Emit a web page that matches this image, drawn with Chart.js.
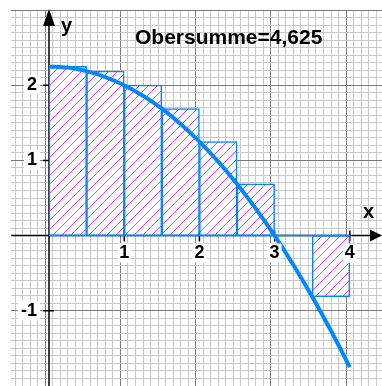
<!DOCTYPE html>
<html><head><meta charset="utf-8">
<script src="https://cdn.jsdelivr.net/npm/chart.js@4"></script>
<style>html,body{margin:0;padding:0;background:#fff;overflow:hidden}canvas{display:block}</style>
</head><body>
<canvas id="c" width="382" height="386"></canvas>
<script>
// ---- data ----
const curveX = [0, 0.25, 0.5, 0.75, 1, 1.25, 1.5, 1.75, 2, 2.25, 2.5, 2.75, 3, 3.25, 3.5, 3.75, 4];
const curveY = [2.25, 2.234, 2.1875, 2.109, 2, 1.859, 1.6875, 1.484, 1.25, 0.984, 0.6875, 0.359, 0, -0.391, -0.8125, -1.266, -1.75];
const rectLeft = [0, 0.5, 1, 1.5, 2, 2.5, 3, 3.5];
const rectWidth = 0.5;
const rectHeight = [2.25, 2.1875, 2, 1.6875, 1.25, 0.6875, 0, -0.8125];
const xTickValues = [1, 2, 3, 4];
const yTickValues = [-1, 1, 2];
const xAxisName = 'x';
const yAxisName = 'y';
const titleText = 'Obersumme=4,625';
const xRange = [-0.5, 4.428];
const yRange = [-2, 3];
const gridStep = 0.1;

const BLUE = 'rgb(0,136,255)';
const HATCH = 'rgb(240,60,240)';
const FONT = '"Liberation Sans", Arial, sans-serif';

function hatchPattern() {
  const s = 9;
  const p = document.createElement('canvas');
  p.width = s; p.height = s;
  const c = p.getContext('2d');
  c.fillStyle = '#ffffff'; c.fillRect(0, 0, s, s);
  c.fillStyle = HATCH;
  for (let i = 0; i < s; i++) c.fillRect(i, s - 1 - i, 1, 1);
  return c.createPattern(p, 'repeat');
}

const gridColor = c => (c && c.tick && Math.abs(c.tick.value - Math.round(c.tick.value)) < 1e-6) ? '#7a7a7a' : '#c8c8c8';

const axesPlugin = {
  id: 'axesPlugin',
  beforeDraw(chart) {
    const ctx = chart.ctx;
    ctx.save(); ctx.fillStyle = '#fff'; ctx.fillRect(0, 0, chart.width, chart.height); ctx.restore();
  },
  beforeDatasetsDraw(chart) {
    const {ctx, chartArea: a, scales: {x, y}} = chart;
    const x0 = x.getPixelForValue(0), y0 = y.getPixelForValue(0);
    ctx.save();
    ctx.strokeStyle = '#000'; ctx.lineWidth = 1.5;
    ctx.beginPath();
    ctx.moveTo(a.left, y0); ctx.lineTo(chart.width - 8, y0);
    ctx.moveTo(x0, 20); ctx.lineTo(x0, a.bottom);
    xTickValues.forEach(v => { const px = x.getPixelForValue(v); ctx.moveTo(px, y0 - 5); ctx.lineTo(px, y0 + 6); });
    yTickValues.forEach(v => { const py = y.getPixelForValue(v); ctx.moveTo(x0 - 6, py); ctx.lineTo(x0 + 5, py); });
    ctx.stroke();
    ctx.restore();
  },
  afterDatasetsDraw(chart) {
    const {ctx, scales: {x, y}} = chart;
    const x0 = x.getPixelForValue(0), y0 = y.getPixelForValue(0);
    ctx.save();
    ctx.fillStyle = '#000';
    ctx.beginPath();
    ctx.moveTo(chart.width, y0); ctx.lineTo(chart.width - 12, y0 - 6); ctx.lineTo(chart.width - 12, y0 + 6); ctx.closePath();
    ctx.moveTo(x0, 9); ctx.lineTo(x0 - 6, 26); ctx.lineTo(x0 + 6, 26); ctx.closePath();
    ctx.fill();
    ctx.font = 'bold 18px ' + FONT;
    ctx.textBaseline = 'alphabetic';
    yTickValues.forEach(v => {
      const py = y.getPixelForValue(v);
      const t = String(v);
      const w = ctx.measureText(t).width;
      ctx.fillStyle = '#fff';
      ctx.fillRect(x0 - 12 - w - 3, py - 10, w + 6, 19);
      ctx.fillStyle = '#000';
      ctx.textAlign = 'right';
      ctx.fillText(t, x0 - 12, py + 5);
    });
    xTickValues.forEach(v => {
      const px = x.getPixelForValue(v);
      const t = String(v);
      const w = ctx.measureText(t).width;
      ctx.fillStyle = '#fff';
      ctx.fillRect(px - w / 2 - 2, y0 + 8, w + 4, 19);
      ctx.fillStyle = '#000';
      ctx.textAlign = 'center';
      ctx.fillText(t, px, y0 + 22);
    });
    ctx.font = 'bold 20px ' + FONT;
    ctx.textAlign = 'left';
    ctx.fillText(xAxisName, 363, 218);
    ctx.fillText(yAxisName, 61, 32);
    ctx.font = 'bold 21px ' + FONT;
    ctx.fillText(titleText, 135, 44);
    ctx.restore();
  }
};

const barData = rectLeft.map((l, i) => ({x: l + rectWidth / 2, y: [0, rectHeight[i]]}));
const curveData = curveX.map((v, i) => ({x: v, y: curveY[i]}));
const baseData = [{x: rectLeft[0], y: 0}, {x: rectLeft[rectLeft.length - 1] + rectWidth, y: 0}];

new Chart(document.getElementById('c'), {
  type: 'bar',
  data: {
    datasets: [
      {type: 'line', data: curveData, borderColor: BLUE, borderWidth: 4, pointRadius: 0,
       cubicInterpolationMode: 'monotone', fill: false, order: 0},
      {type: 'line', data: baseData, borderColor: BLUE, borderWidth: 1.5, pointRadius: 0, fill: false, order: 1},
      {type: 'bar', data: barData, backgroundColor: hatchPattern(), borderColor: BLUE, borderWidth: 1.5,
       borderSkipped: false, barPercentage: 1, categoryPercentage: 1, order: 2}
    ]
  },
  options: {
    responsive: false, animation: false, devicePixelRatio: 1, events: [],
    layout: {padding: {left: 11.4, top: 10, right: 0, bottom: 0}},
    plugins: {legend: {display: false}, tooltip: {enabled: false}},
    scales: {
      x: {type: 'linear', min: xRange[0], max: xRange[1], display: false, offset: false},
      y: {type: 'linear', min: yRange[0], max: yRange[1], display: false},
      gx: {type: 'linear', axis: 'x', position: 'bottom', min: xRange[0], max: xRange[1], offset: false,
           ticks: {display: false, stepSize: gridStep, autoSkip: false, includeBounds: false},
           border: {display: false},
           grid: {drawTicks: false, lineWidth: 1, color: gridColor}},
      gy: {type: 'linear', axis: 'y', position: 'left', min: yRange[0], max: yRange[1],
           ticks: {display: false, stepSize: gridStep, autoSkip: false, includeBounds: false},
           border: {display: false},
           grid: {drawTicks: false, lineWidth: 1, color: gridColor}}
    }
  },
  plugins: [axesPlugin]
});
</script>
</body></html>
